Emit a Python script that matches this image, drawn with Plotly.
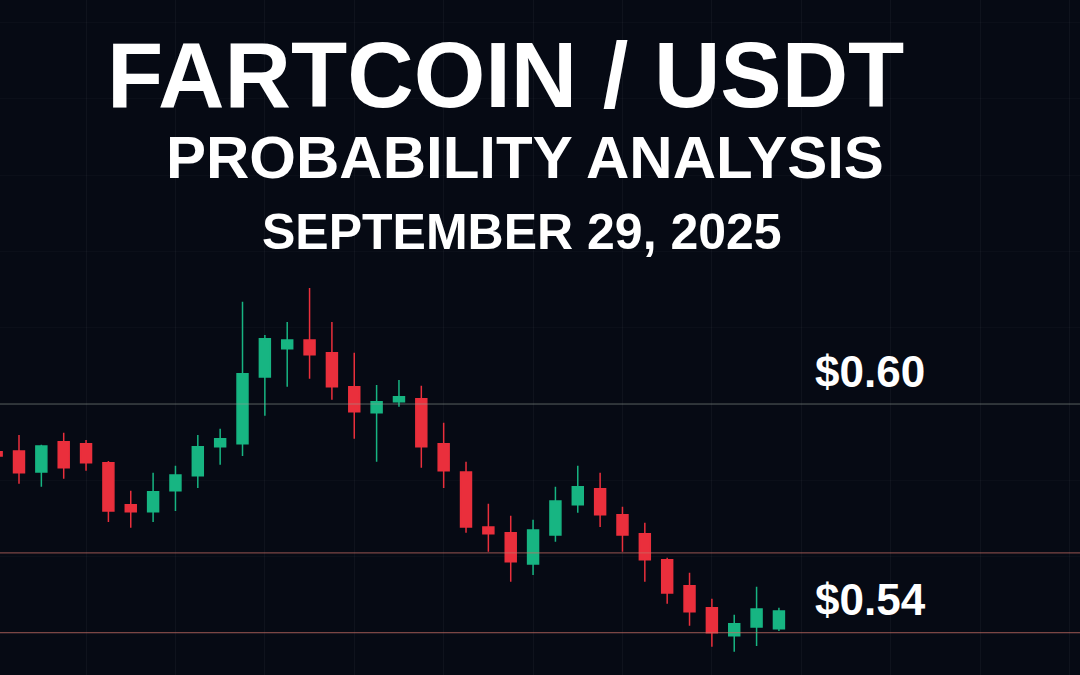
import plotly.graph_objects as go

idx = list(range(36))
opens  = [.5875,.5877,.5822,.5901,.5896,.5846,.5736,.5718,.5773,.5812,.5888,.5896,.6071,.6145,.6168,.6134,.6045,.5977,.6006,.6014,.5896,.5822,.5678,.5663,.5581,.5657,.5736,.5778,.5710,.5660,.5592,.5524,.5466,.5393,.5416,.5411]
highs  = [.5882,.5919,.5893,.5925,.5906,.5851,.5773,.5820,.5838,.5919,.5935,.6268,.6181,.6215,.6304,.6215,.6134,.6050,.6063,.6048,.5951,.5849,.5739,.5707,.5697,.5783,.5838,.5820,.5731,.5689,.5597,.5558,.5490,.5448,.5521,.5466]
lows   = [.5855,.5791,.5783,.5804,.5825,.5691,.5676,.5691,.5720,.5780,.5841,.5864,.5969,.6045,.6066,.6011,.5909,.5849,.5993,.5833,.5780,.5663,.5613,.5534,.5552,.5639,.5715,.5678,.5613,.5534,.5477,.5419,.5364,.5351,.5366,.5405]
closes = [.5864,.5820,.5890,.5833,.5846,.5720,.5718,.5770,.5814,.5888,.5909,.6079,.6171,.6168,.6129,.6045,.5980,.6006,.6019,.5888,.5825,.5678,.5660,.5587,.5670,.5746,.5783,.5710,.5657,.5592,.5505,.5456,.5401,.5424,.5463,.5458]
levels = [0.60, 0.5610, 0.5401]
level_colors = ["rgba(150,160,150,0.55)", "rgba(200,110,100,0.6)", "rgba(200,110,100,0.6)"]
level_labels = [("$0.60", 0.6085), ("$0.54", 0.5487)]

GREEN = "#17b582"
RED = "#ea2f3c"

fig = go.Figure()
fig.add_trace(go.Candlestick(
    x=idx, open=opens, high=highs, low=lows, close=closes,
    increasing=dict(line=dict(color=GREEN, width=1.5), fillcolor=GREEN),
    decreasing=dict(line=dict(color=RED, width=1.5), fillcolor=RED),
    whiskerwidth=0, showlegend=False))

for lv, c in zip(levels, level_colors):
    fig.add_hline(y=lv, line=dict(color=c, width=1.2))

for t, yv in level_labels:
    fig.add_annotation(x=870/1080, xref="paper", y=yv, yref="y", text="<b>"+t+"</b>",
                       showarrow=False, xanchor="center",
                       font=dict(size=44, color="white", family="Liberation Sans"))

titles = [("FARTCOIN / USDT", 75, 505, 92), ("PROBABILITY ANALYSIS", 157, 525, 60), ("SEPTEMBER 29, 2025", 232, 522, 50)]
for t, ypx, xpx, sz in titles:
    fig.add_annotation(x=xpx / 1080, xref="paper", y=1 - ypx / 675, yref="paper", text="<b>"+t+"</b>",
                       showarrow=False, xanchor="center", yanchor="middle",
                       font=dict(size=sz, color="white", family="Liberation Sans"))

fig.update_layout(
    width=1080, height=675, margin=dict(l=0, r=0, t=0, b=0),
    paper_bgcolor="#060a14", plot_bgcolor="#060a14",
    xaxis=dict(range=[0.15, 48.47], rangeslider=dict(visible=False), showticklabels=False,
               showgrid=True, gridcolor="rgba(255,255,255,0.04)", dtick=4, zeroline=False),
    yaxis=dict(range=[0.5290, 0.70585], showticklabels=False, showgrid=True,
               gridcolor="rgba(255,255,255,0.025)", dtick=0.02, zeroline=False),
)
fig.write_html("out.html", config={"displayModeBar": False},
               post_script="document.body.style.margin='0';document.body.style.background='#060a14';")
